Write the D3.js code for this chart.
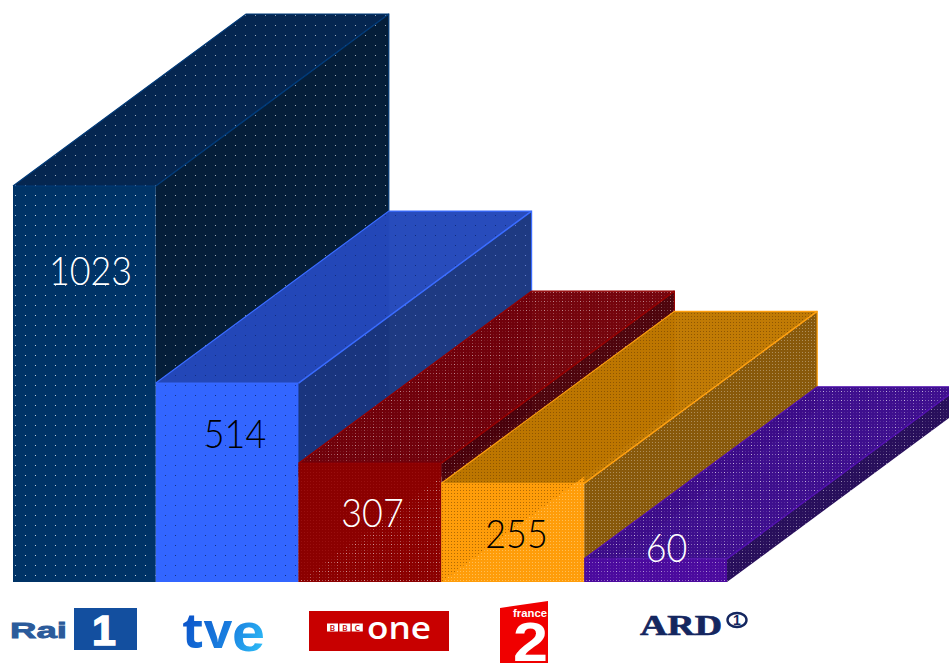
<!DOCTYPE html>
<html><head><meta charset="utf-8">
<script src="https://cdn.jsdelivr.net/npm/d3@7/dist/d3.min.js"></script>
<style>html,body{margin:0;padding:0;background:#fff;overflow:hidden}svg{display:block}text{font-family:"Lato","Open Sans",sans-serif}</style>
</head><body><svg id="c" width="949" height="663"></svg>
<script>
const channels = ["Rai 1","TVE","BBC One","France 2","ARD"];
const values = [1023,514,307,255,60];
const valueLabels = ["1023","514","307","255","60"];
const frontColors = ["#003366","#3366ff","#8b0000","#ff9d0a","#4b0a9e"];
const topColors = ["#00224d","#2448bb","#720008","#c07800","#3a0a8c"];
const sideColors = ["#001a35","#1a3680","#4a0008","#865606","#240a58"];
const edgeColors = ["#003a78","#3a6cff","#950000","#ffa010","#5210b0"];
const labelColors = ["#fff","#000","#fff","#000","#fff"];

const W=949,H=663, baseY=582, dx=233, dy=172;
const svg=d3.select("#c");
const x=d3.scaleBand().domain(channels).range([13,727]).padding(0);
const y=d3.scaleLinear().domain([0,1023]).range([baseY,186]);
const defs=svg.append("defs");

// dot textures: [spacing, colour, opacity, plaid clustering]
const textures={
  front0:[10,"#fff",.75,0], top0:[10,"#fff",.6,0], side0:[10,"#fff",.6,0],
  front1:[10,"#0c2060",.8,0], top1:[10,"#0c2060",.7,0], side1:[10,"#9ab0ff",.55,0],
  front2:[3,"#fff",.6,1], top2:[3,"#fff",.55,1], side2:[3,"#fff",.5,1], upper2:[3,"#ff8080",.12,0],
  front3:[3,"#ffe6b0",.45,0], top3:[3,"#704000",.6,0], side3:[3,"#fff",.32,0], upper3:[3,"#8a5000",.65,0],
  front4:[3,"#fff",.6,1], top4:[3,"#fff",.7,1], side4:[3,"#fff",.55,1]
};
Object.entries(textures).forEach(([k,[s,col,op,plaid]])=>{
  const tile=plaid?s*3:s;
  const p=defs.append("pattern").attr("id",k).attr("patternUnits","userSpaceOnUse").attr("width",tile).attr("height",tile);
  d3.range(0,tile,s).forEach((px,a)=>d3.range(0,tile,s).forEach((py,b)=>{
    const w=plaid?((a===1||b===1)?(a===1&&b===1?1:.55):.18):1;
    p.append("rect").attr("x",px+Math.floor(s/2)).attr("y",py+Math.floor(s/2)).attr("width",1).attr("height",1).attr("fill",col).attr("opacity",op*w);
  }));
});
const tveG=defs.append("linearGradient").attr("id","tveg").attr("gradientUnits","userSpaceOnUse").attr("x1",182).attr("y1",614).attr("x2",265).attr("y2",655);
tveG.append("stop").attr("offset",0).attr("stop-color","#0a50c8");
tveG.append("stop").attr("offset",.55).attr("stop-color","#1a80e0");
tveG.append("stop").attr("offset",1).attr("stop-color","#30c4fa");

const labelBaselines=[285,448,527,548,562];
const labelCentres=[90.5,235,372.5,516.5,666.5];
const pts=a=>a.map(p=>p.join(",")).join(" ");
const slope=dy/dx, bw=x.bandwidth();
const bars=svg.selectAll("g.bar").data(channels).join("g").attr("class","bar");
bars.each(function(c,i){
  const g=d3.select(this), l=x(c), r=l+bw, t=y(values[i]), b=baseY;
  const side=[[r,t],[r+dx,t-dy],[r+dx,b-dy],[r,b]];
  const top=[[l,t],[l+dx,t-dy],[r+dx,t-dy],[r,t]];
  const front=[[l,t],[r,t],[r,b],[l,b]];
  [[side,sideColors[i],.98,"side"],[top,topColors[i],.98,"top"],[front,frontColors[i],1,"front"]].forEach(([f,col,o,n])=>{
    g.append("polygon").attr("points",pts(f)).attr("fill",col).attr("fill-opacity",o);
    g.append("polygon").attr("points",pts(f)).attr("fill","url(#"+n+i+")");
  });
  if(textures["upper"+i]){
    const upper=[[l,t],[r,t],[r,b-bw*slope],[l,b]];
    g.append("polygon").attr("points",pts(upper)).attr("fill",frontColors[i]);
    g.append("polygon").attr("points",pts(upper)).attr("fill","url(#upper"+i+")");
  }
  g.append("polyline").attr("points",pts([[l,t],[l+dx,t-dy],[r+dx,t-dy],[r+dx,b-dy]])).attr("fill","none").attr("stroke",edgeColors[i]).attr("stroke-width",1.2);
  g.append("line").attr("x1",r).attr("y1",t).attr("x2",r+dx).attr("y2",t-dy).attr("stroke",edgeColors[i]).attr("stroke-width",1.5);
  g.append("line").attr("x1",l).attr("y1",t).attr("x2",r).attr("y2",t).attr("stroke",edgeColors[i]).attr("stroke-width",1);
  g.append("text").attr("x",labelCentres[i]).attr("y",labelBaselines[i]).attr("text-anchor","middle")
    .attr("font-size",40).attr("font-weight",300)
    .attr("textLength",valueLabels[i].length*20.8).attr("lengthAdjust","spacingAndGlyphs")
    .attr("fill",labelColors[i]).text(valueLabels[i]);
});

// logos
const logos=svg.append("g");
const txt=(s,px,py,size,fill,fam,weight)=>logos.append("text").attr("x",px).attr("y",py).attr("font-size",size).attr("fill",fill)
  .attr("style",`font-family:'${fam}';font-weight:${weight}`).text(s);
// Rai 1
txt("Rai",10,638,22,"#2b5b9b","Liberation Sans",700).attr("textLength",57).attr("lengthAdjust","spacingAndGlyphs").attr("stroke","#2b5b9b").attr("stroke-width",.8);
logos.append("rect").attr("x",74).attr("y",608).attr("width",63).attr("height",42).attr("fill","#134f9f");
txt("1",92,645,43,"#fff","Liberation Sans",700).attr("stroke","#fff").attr("stroke-width",1.5);
// tve
txt("tv",182,648,48,"url(#tveg)","Open Sans",700).attr("textLength",50).attr("lengthAdjust","spacingAndGlyphs");
txt("e",232,651,54,"url(#tveg)","Liberation Sans",700).attr("textLength",33).attr("lengthAdjust","spacingAndGlyphs");
// BBC one
logos.append("rect").attr("x",309).attr("y",611).attr("width",140).attr("height",40).attr("fill","#c80000");
["B","B","C"].forEach((ch,i)=>{
  logos.append("rect").attr("x",327+i*12.4).attr("y",623.5).attr("width",11).attr("height",8).attr("fill","#fff");
  logos.append("text").attr("x",332.5+i*12.4).attr("y",630.5).attr("text-anchor","middle").attr("font-size",8).attr("font-weight",700).attr("fill","#c80000").text(ch);
});
txt("one",367,639,30,"#fff","Open Sans",600).attr("textLength",64).attr("lengthAdjust","spacingAndGlyphs");
// france 2
logos.append("polygon").attr("points","500,608 548,601 548,663 500,663").attr("fill","#f00000");
txt("france",513,617,10.5,"#fff","Liberation Sans",700).attr("textLength",34).attr("lengthAdjust","spacingAndGlyphs");
txt("2",513,661,55,"#fff","Liberation Sans",700).attr("textLength",35).attr("lengthAdjust","spacingAndGlyphs");
// ARD
txt("ARD",640,635,30,"#14265f","Liberation Serif",700).attr("textLength",82).attr("lengthAdjust","spacingAndGlyphs").attr("stroke","#14265f").attr("stroke-width",.7);
logos.append("ellipse").attr("cx",737).attr("cy",620).attr("rx",9.5).attr("ry",7).attr("fill","#fff").attr("stroke","#14265f").attr("stroke-width",2.4);
txt("1",733,625,14,"#14265f","Liberation Sans",700);
</script></body></html>
